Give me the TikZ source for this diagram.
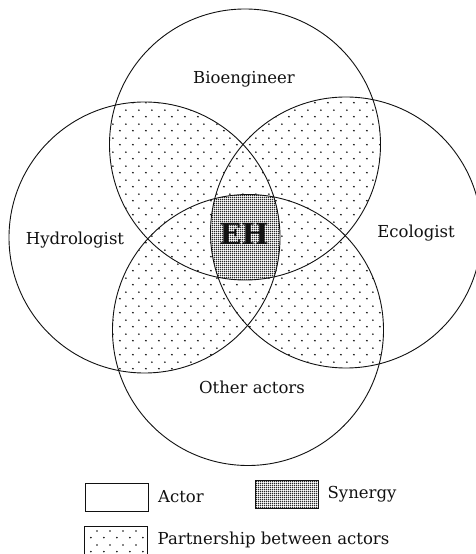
\documentclass[tikz,border=0pt]{standalone}
\usepackage{fontspec}
\setmainfont{DejaVu Serif}
\usetikzlibrary{positioning,patterns}
\definecolor{ink}{HTML}{111111}
\pgfdeclarepatternformonly{partnerdots}{\pgfpointorigin}{\pgfpoint{12.5pt}{14pt}}{\pgfpoint{12.5pt}{14pt}}{%
  \pgfpathcircle{\pgfpoint{3pt}{3.5pt}}{0.95pt}
  \pgfpathcircle{\pgfpoint{9.25pt}{10.5pt}}{0.95pt}
  \pgfusepath{fill}}
\pgfdeclarepatternformonly{synergymesh}{\pgfpointorigin}{\pgfpoint{2pt}{2pt}}{\pgfpoint{2pt}{2pt}}{%
  \pgfpathrectangle{\pgfpointorigin}{\pgfpoint{2pt}{0.9pt}}
  \pgfpathrectangle{\pgfpointorigin}{\pgfpoint{0.9pt}{2pt}}
  \pgfusepath{fill}}
\tikzset{
  actor/.style={draw=ink,line width=0.9pt},
  actorname/.style={font=\fontsize{16.5}{19}\selectfont,text=ink,inner sep=0pt},
  keybox/.style={draw=ink,line width=0.9pt,minimum width=63pt,minimum height=28pt,inner sep=0pt},
  keytext/.style={font=\fontsize{16.5}{19}\selectfont,text=ink,inner sep=0pt,anchor=west}
}
\begin{document}
\begin{tikzpicture}[x=1pt,y=1pt]
  \useasboundingbox (0,0) rectangle (476,554);
  \def\rad{135.5pt}
  % the four actors
  \coordinate (bio) at (245,409.5);
  \coordinate (hyd) at (144.5,316.5);
  \coordinate (eco) at (346,321.5);
  \coordinate (oth) at (248,224);

  % partnership: dots everywhere, then white out what only one actor covers
  \fill[pattern=partnerdots,pattern color=ink] (0,80) rectangle (476,554);
  \begin{scope}[even odd rule]
    \foreach \c in {bio,hyd,eco,oth}
      \clip (-10,70) rectangle (490,564) (\c) circle[radius=\rad];
    \fill[white] (-10,70) rectangle (490,564);
  \end{scope}
  \foreach \a/\b/\c/\d in {bio/hyd/eco/oth,hyd/bio/eco/oth,eco/bio/hyd/oth,oth/bio/hyd/eco}{
    \begin{scope}[even odd rule]
      \clip (\a) circle[radius=\rad];
      \clip (-10,70) rectangle (490,564) (\b) circle[radius=\rad];
      \clip (-10,70) rectangle (490,564) (\c) circle[radius=\rad];
      \clip (-10,70) rectangle (490,564) (\d) circle[radius=\rad];
      \fill[white] (\a) circle[radius=\rad];
    \end{scope}
  }
  % synergy = overlap of all four
  \begin{scope}
    \clip (bio) circle[radius=\rad];
    \clip (hyd) circle[radius=\rad];
    \clip (eco) circle[radius=\rad];
    \fill[white] (oth) circle[radius=\rad];
    \fill[pattern=synergymesh,pattern color=ink] (oth) circle[radius=\rad];
  \end{scope}
  \foreach \c in {bio,hyd,eco,oth}
    \draw[actor] (\c) circle[radius=\rad];

  \node[actorname] (bioname) at (244,475) {Bioengineer};
  \node[actorname] (hydname) at (75,314) {Hydrologist};
  \node[actorname] (econame) at (416,321) {Ecologist};
  \node[actorname] (othname) at (252,167) {Other actors};
  \node[font=\fontsize{29}{34}\selectfont\bfseries,text=ink,inner sep=0pt] (eh) at (244,320) {EH};

  % legend
  \node[keybox] (actorkey) at (117,57) {};
  \node[keytext,right=9pt of actorkey] (actortext) {Actor};
  \node[keybox,pattern=synergymesh,pattern color=ink] (synkey) at (286.5,59.5) {};
  \node[keytext,right=9pt of synkey] (syntext) {Synergy};
  \node[keybox,pattern=partnerdots,pattern color=ink] (partkey) at (115.5,14) {};
  \node[keytext,right=10pt of partkey] (parttext) {Partnership between actors};
\end{tikzpicture}
\end{document}
